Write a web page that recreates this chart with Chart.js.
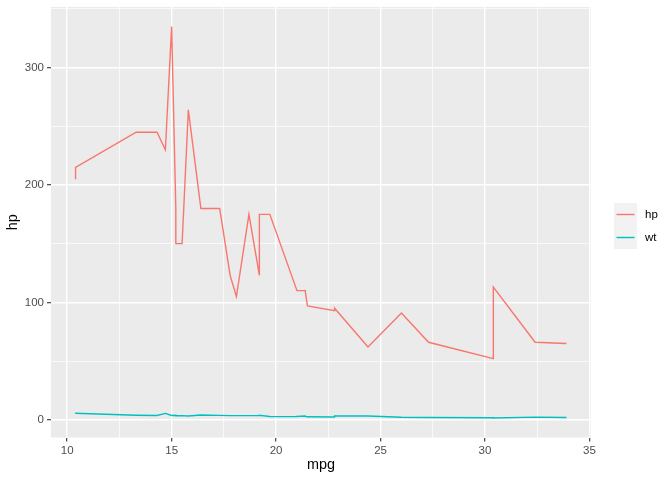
<!DOCTYPE html>
<html>
<head>
<meta charset="utf-8">
<script src="https://cdn.jsdelivr.net/npm/chart.js@4/dist/chart.umd.min.js"></script>
<style>
  html, body { margin: 0; padding: 0; background: #fff; }
  #wrap { width: 672px; height: 480px; }
</style>
</head>
<body>
<div id="wrap"><canvas id="chart" width="672" height="480"></canvas></div>
<script>
// mtcars, ordered by mpg (ties kept in data order) as geom_line does
const mpg = [10.4, 10.4, 13.3, 14.3, 14.7, 15.0, 15.2, 15.2, 15.5, 15.8, 16.4, 17.3, 17.8, 18.1, 18.7,
             19.2, 19.2, 19.7, 21.0, 21.0, 21.4, 21.4, 21.5, 22.8, 22.8, 24.4, 26.0, 27.3, 30.4, 30.4, 32.4, 33.9];
const hp  = [205, 215, 245, 245, 230, 335, 180, 150, 150, 264, 180, 180, 123, 105, 175,
             123, 175, 175, 110, 110, 110, 109, 97, 93, 95, 62, 91, 66, 52, 113, 66, 65];
const wt  = [5.250, 5.424, 3.840, 3.570, 5.345, 3.570, 3.780, 3.435, 3.520, 3.170, 4.070, 3.730, 3.440, 3.460, 3.440,
             3.440, 3.845, 2.770, 2.620, 2.875, 3.215, 2.780, 2.465, 2.320, 3.150, 3.190, 2.140, 1.935, 1.615, 1.513, 2.200, 1.835];

const seriesNames = ['hp', 'wt'];
const seriesColors = ['#F8766D', '#00BFC4'];

const xMajor = [10, 15, 20, 25, 30, 35];
const xMinor = [12.5, 17.5, 22.5, 27.5, 32.5];
const yMajor = [0, 100, 200, 300];
const yMinor = [50, 150, 250, 350];

// ggplot-style 5% expansion of the data range
function expand(vals) {
  const lo = Math.min(...vals), hi = Math.max(...vals);
  const d = (hi - lo) * 0.05;
  return [lo - d, hi + d];
}
const [xMin, xMax] = expand(mpg);
const [yMin, yMax] = expand(hp.concat(wt));

function makeTicks(major, minor) {
  return major.map(v => ({ value: v, minor: false }))
    .concat(minor.map(v => ({ value: v, minor: true })))
    .sort((a, b) => a.value - b.value);
}

function gridOpts() {
  return {
    color: '#FFFFFF',
    lineWidth: ctx => (ctx.tick && ctx.tick.minor) ? 0.7 : 1.4,
    drawTicks: true,
    tickLength: 4,
    tickWidth: 1.1,
    tickColor: ctx => (ctx.tick && ctx.tick.minor) ? 'rgba(0,0,0,0)' : '#333333'
  };
}

const tickFont = { family: 'Liberation Sans, Arial, sans-serif', size: 11.5 };

// panel background, axis titles and the legend
const ggPlugin = {
  id: 'gg',
  beforeDraw(chart) {
    const a = chart.chartArea, c = chart.ctx;
    c.save();
    c.fillStyle = '#EBEBEB';
    c.fillRect(a.left, a.top, a.right - a.left, a.bottom - a.top);
    c.restore();
  },
  afterDraw(chart) {
    const a = chart.chartArea, c = chart.ctx;
    c.save();
    c.fillStyle = '#000000';
    c.font = '14.4px Liberation Sans, Arial, sans-serif';
    c.textAlign = 'center';
    c.textBaseline = 'middle';
    c.fillText('mpg', (a.left + a.right) / 2, 465);
    c.translate(13, (a.top + a.bottom) / 2);
    c.rotate(-Math.PI / 2);
    c.fillText('hp', 0, 0);
    c.restore();

    // legend keys
    c.save();
    const kx = 614, kw = 23, kh = 23, ky0 = 203;
    seriesNames.forEach((name, i) => {
      const ky = ky0 + i * kh;
      c.fillStyle = '#F2F2F2';
      c.fillRect(kx, ky, kw, kh);
      c.strokeStyle = seriesColors[i];
      c.lineWidth = 1.4;
      c.beginPath();
      c.moveTo(kx + 2.5, ky + kh / 2);
      c.lineTo(kx + kw - 2.5, ky + kh / 2);
      c.stroke();
      c.fillStyle = '#000000';
      c.font = '11.5px Liberation Sans, Arial, sans-serif';
      c.textAlign = 'left';
      c.textBaseline = 'middle';
      c.fillText(name, kx + kw + 8, ky + kh / 2);
    });
    c.restore();
  }
};

const datasets = [hp, wt].map((ys, i) => ({
  label: seriesNames[i],
  data: mpg.map((x, j) => ({ x: x, y: ys[j] })),
  borderColor: seriesColors[i],
  backgroundColor: seriesColors[i],
  borderWidth: 1.4,
  showLine: true,
  pointRadius: 0,
  tension: 0,
  fill: false
}));

new Chart(document.getElementById('chart'), {
  type: 'scatter',
  data: { datasets: datasets },
  options: {
    responsive: false,
    animation: false,
    layout: { padding: { top: 7, right: 81, left: 0, bottom: 0 } },
    plugins: { legend: { display: false }, tooltip: { enabled: false } },
    scales: {
      x: {
        type: 'linear',
        min: xMin, max: xMax,
        afterBuildTicks: s => { s.ticks = makeTicks(xMajor, xMinor); },
        afterFit: s => { s.height = 42.5; s.paddingLeft = 0; s.paddingRight = 0; },
        grid: gridOpts(),
        border: { display: false },
        ticks: {
          autoSkip: false, maxRotation: 0, padding: 2,
          color: '#4D4D4D', font: tickFont,
          callback: function (v, i, ticks) { return ticks[i].minor ? '' : String(v); }
        }
      },
      y: {
        type: 'linear',
        min: yMin, max: yMax,
        afterBuildTicks: s => { s.ticks = makeTicks(yMajor, yMinor); },
        afterFit: s => { s.width = 51; s.paddingTop = 0; s.paddingBottom = 0; },
        grid: gridOpts(),
        border: { display: false },
        ticks: {
          autoSkip: false, padding: 3,
          color: '#4D4D4D', font: tickFont,
          callback: function (v, i, ticks) { return ticks[i].minor ? '' : String(v); }
        }
      }
    }
  },
  plugins: [ggPlugin]
});
</script>
</body>
</html>
